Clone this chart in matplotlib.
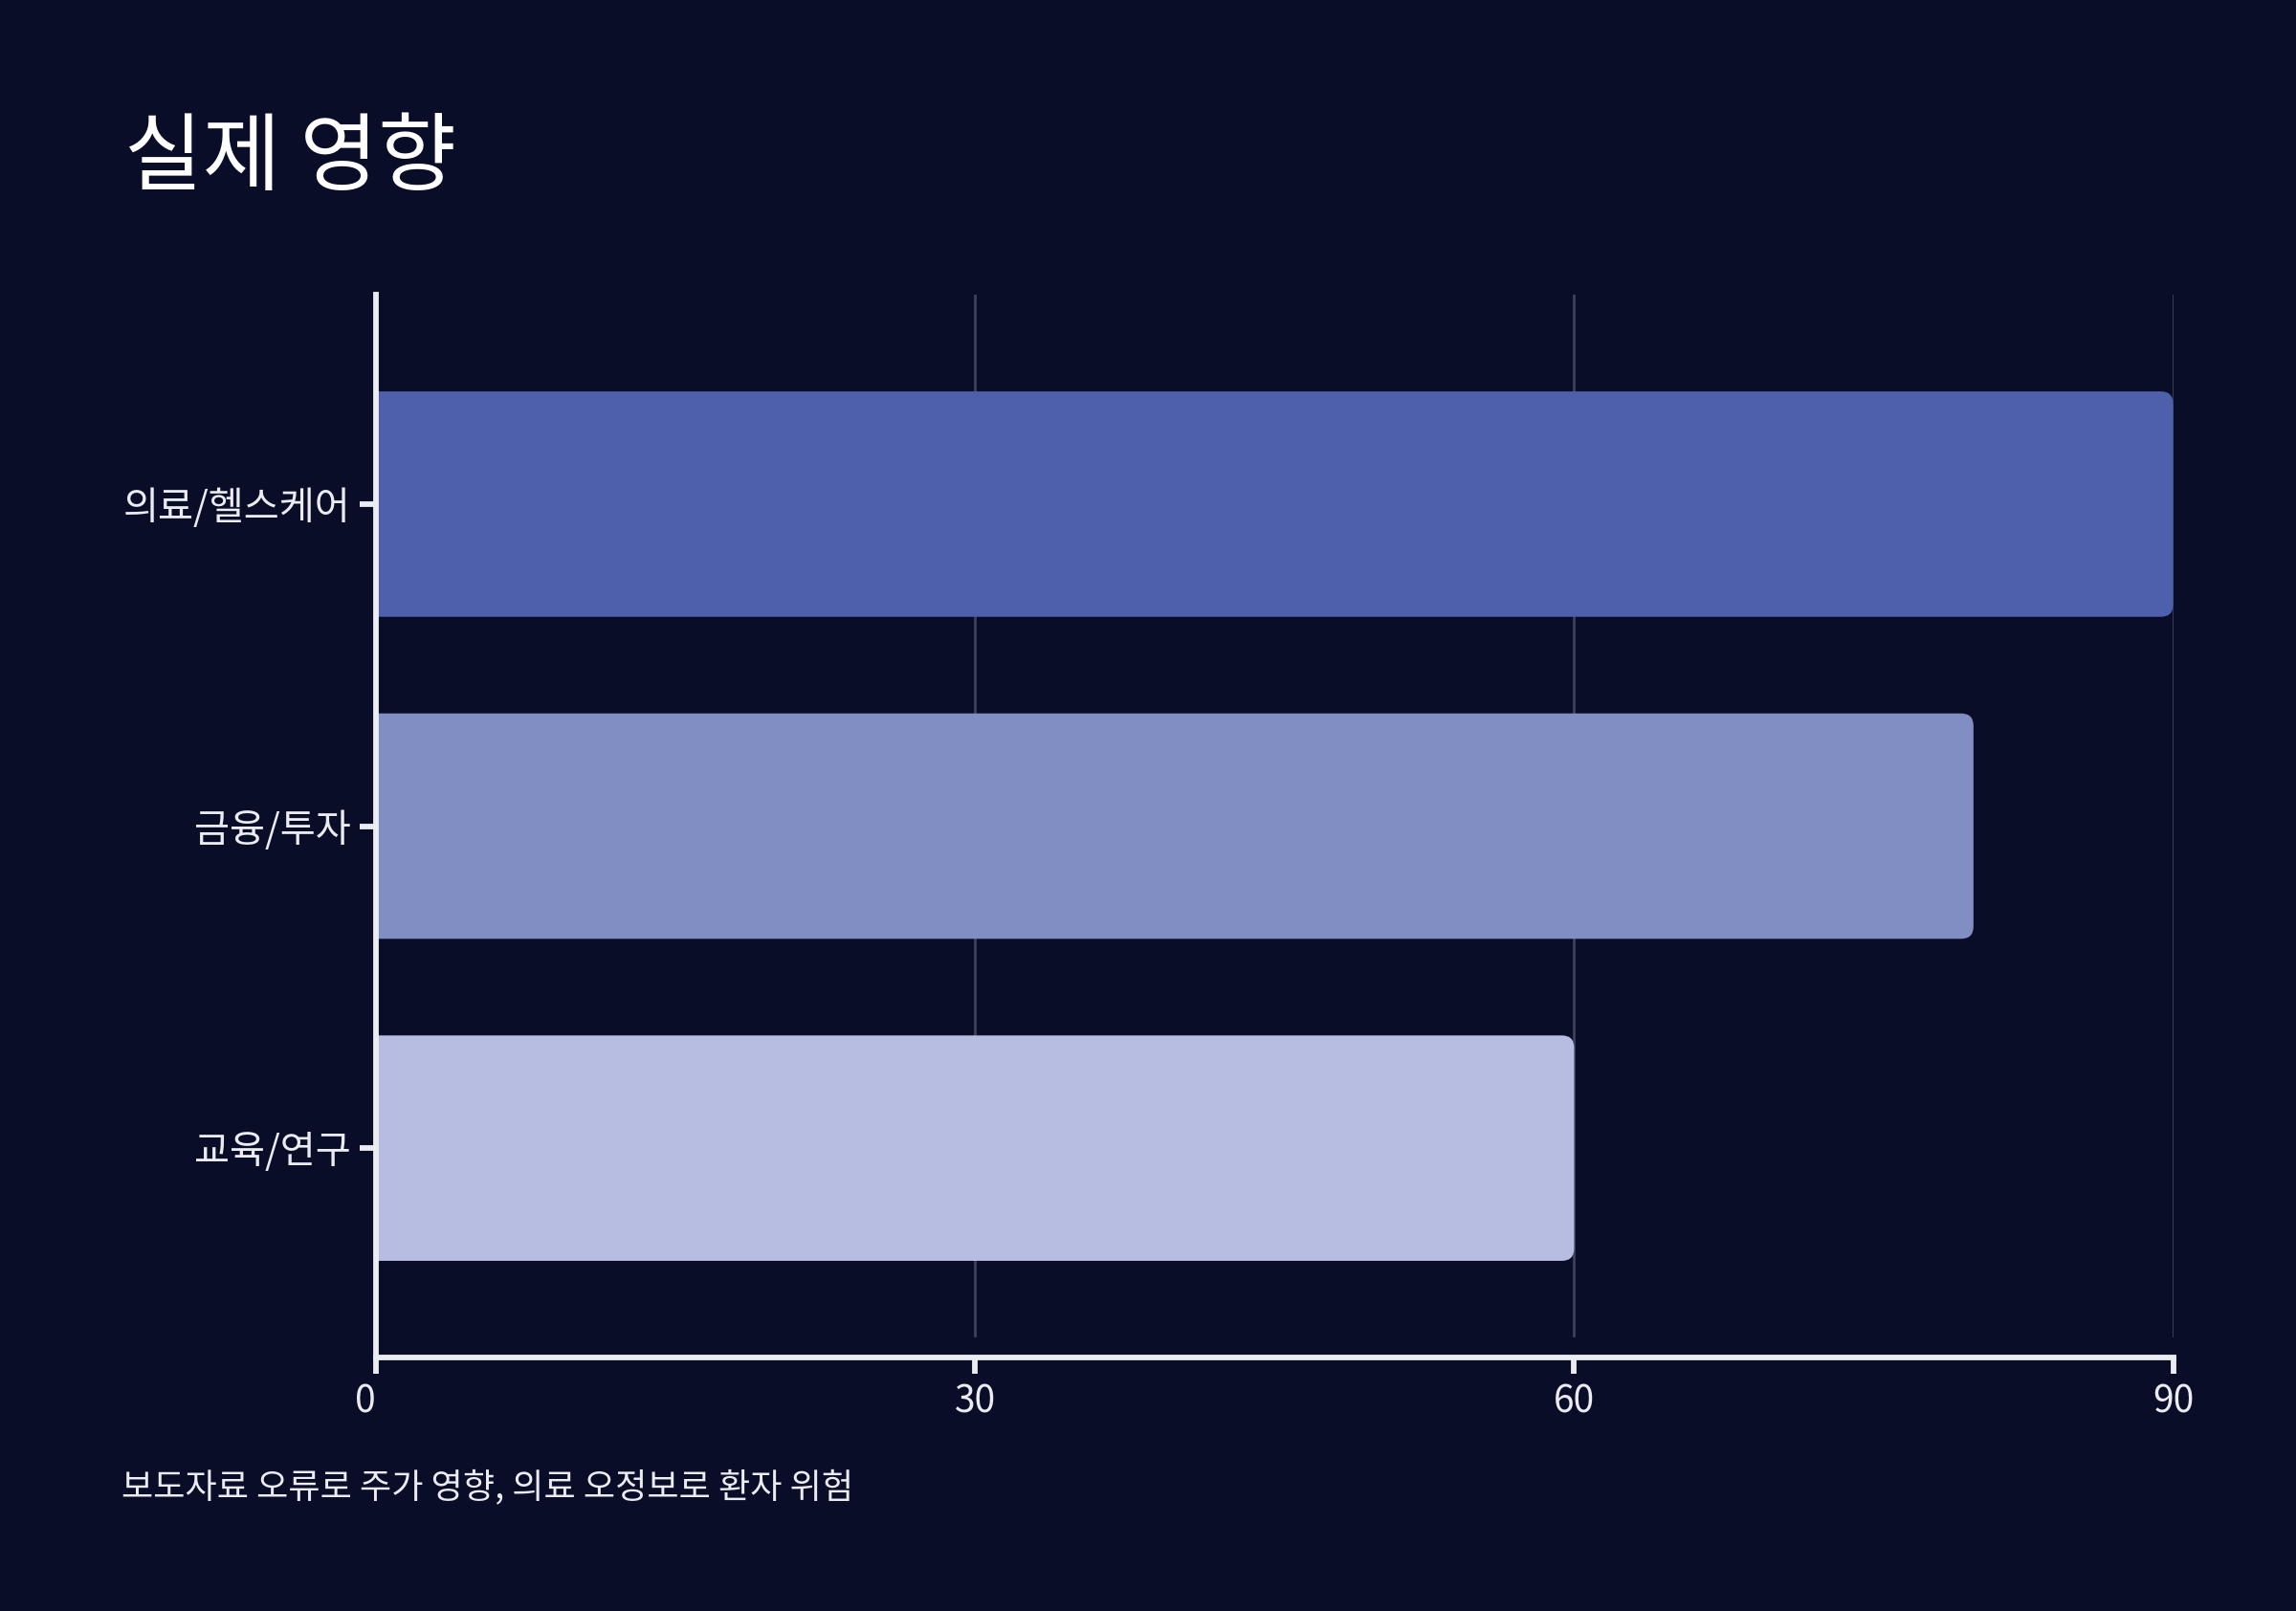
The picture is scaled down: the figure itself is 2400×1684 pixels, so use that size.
import numpy as np
import matplotlib.pyplot as plt
from matplotlib.patches import FancyBboxPatch

plt.rcParams['font.family'] = ['Noto Sans CJK KR', 'DejaVu Sans']

# 데이터
categories = ['의료/헬스케어', '금융/투자', '교육/연구']
values = [90, 80, 60]
bar_colors = ['#4e60ac', '#808ec4', '#b7bde0']
xticks = [0, 30, 60, 90]

title = '실제 영향'
note = '보도자료 오류로 주가 영향, 의료 오정보로 환자 위험'

bg = '#090d27'
fg = '#ebecf1'
grid_c = '#3d4259'

W, H, DPI = 12, 8.42, 200
fig = plt.figure(figsize=(W, H), dpi=DPI, facecolor=bg)
ax_rect = [0.1638, 0.1574, 0.9465 - 0.1638, 0.817 - 0.1574]
ax = fig.add_axes(ax_rect, facecolor=bg)

ypos = np.arange(len(categories))
bars = ax.barh(ypos, values, height=0.7, color=bar_colors, zorder=2)

ax.set_xlim(0, 90)
ax.set_ylim(len(categories) - 0.35, -0.65)

# 막대 오른쪽 끝을 둥글게
ux = 90 / (ax_rect[2] * W * DPI)
uy = 3.3 / (ax_rect[3] * H * DPI)
r = 13 * ux
for b in bars:
    x0, y0, w, h = b.get_x(), b.get_y(), b.get_width(), b.get_height()
    fc = b.get_facecolor()
    b.remove()
    p = FancyBboxPatch((x0 - 3 * r, y0), w + 3 * r, h,
                       boxstyle=f"round,pad=0,rounding_size={r}",
                       mutation_aspect=uy / ux, fc=fc, ec='none', zorder=2)
    ax.add_patch(p)

# 격자
for t in xticks[1:]:
    ax.axvline(t, ymin=0.0207, ymax=1, color=grid_c, lw=1.0, zorder=1)

for s in ['top', 'right']:
    ax.spines[s].set_visible(False)
for s in ['left', 'bottom']:
    ax.spines[s].set_color(fg)
    ax.spines[s].set_linewidth(2.1)
    ax.spines[s].set_zorder(3)

ax.set_yticks(ypos, categories)
ax.set_xticks(xticks, [str(t) for t in xticks])
ax.tick_params(axis='both', length=6, width=2.1, color=fg, labelcolor=fg,
               labelsize=14, pad=3.5)
ax.tick_params(axis='y', labelsize=14.5)
ax.get_xticklabels()[0].set_ha('right')

fig.text(0.054, 0.886, title, color='white', fontsize=32, va='baseline')
fig.text(0.053, 0.0705, note, color=fg, fontsize=13, va='baseline')

fig.savefig('out.png', dpi=DPI, facecolor=bg)
